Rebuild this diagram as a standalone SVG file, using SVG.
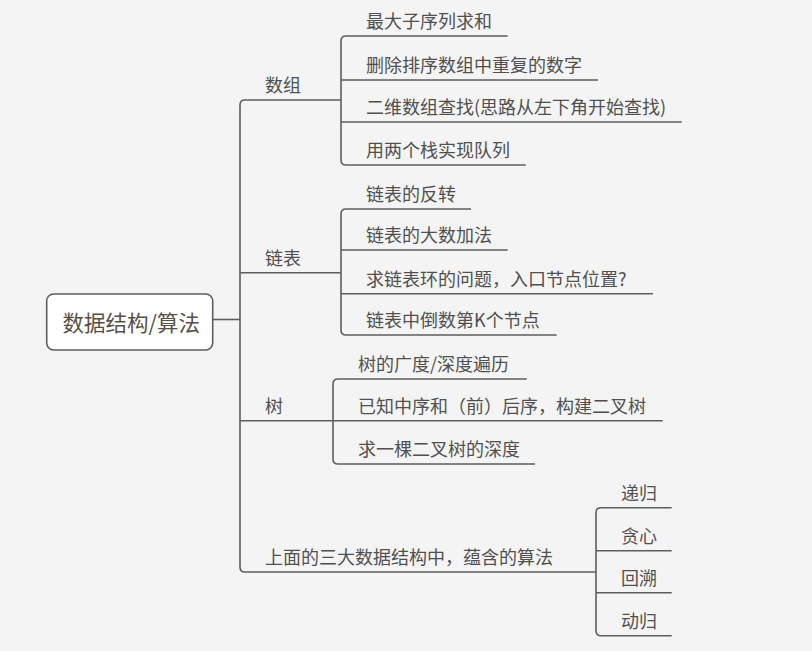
<svg xmlns="http://www.w3.org/2000/svg" width="812" height="651" viewBox="0 0 812 651">
<style>
  .bg{fill:#f4f4f4}
  .c{fill:none;stroke:#5e5e5e;stroke-width:1.6;stroke-linecap:butt}
  .t{font-family:"Noto Sans CJK SC","Liberation Sans",sans-serif;font-size:18px;fill:#505050}
  .root{font-family:"Noto Sans CJK SC","Liberation Sans",sans-serif;font-size:21.5px;fill:#574f48}
  .box{fill:#ffffff;stroke:#5e5e5e;stroke-width:1.6}
</style>
<rect class="bg" x="0" y="0" width="812" height="651"/>
<g id="connectors">
  <path class="c" d="M212.7 319.5 H240"/>
  <path class="c" d="M341 100 H245 Q240 100 240 105 V567 Q240 572 245 572 H596"/>
  <path class="c" d="M240 272.7 H341"/>
  <path class="c" d="M240 420.7 H333"/>
  <path class="c" d="M507.7 36 H346 Q341 36 341 41 V160 Q341 165 346 165 H525.7"/>
  <path class="c" d="M341 80 H598"/>
  <path class="c" d="M341 122 H681.7"/>
  <path class="c" d="M471 209 H346 Q341 209 341 214 V330 Q341 335 346 335 H556.7"/>
  <path class="c" d="M341 250 H507.7"/>
  <path class="c" d="M341 293.7 H653"/>
  <path class="c" d="M526.7 379 H338 Q333 379 333 384 V459 Q333 464 338 464 H535"/>
  <path class="c" d="M333 420.7 H662.7"/>
  <path class="c" d="M671.7 507.7 H601 Q596 507.7 596 512.7 V630.7 Q596 635.7 601 635.7 H671.7"/>
  <path class="c" d="M596 550.7 H671.7"/>
  <path class="c" d="M596 592.7 H671.7"/>
</g>
<g id="root">
  <rect class="box" x="46.7" y="294" width="166" height="56" rx="7"/>
  <text class="root" x="62.5" y="331">数据结构/算法</text>
</g>
<g id="n-array"><text class="t" x="265" y="92">数组</text></g>
<g id="n-list"><text class="t" x="265" y="264.7">链表</text></g>
<g id="n-tree"><text class="t" x="265" y="412.7">树</text></g>
<g id="n-algo"><text class="t" x="265" y="564">上面的三大数据结构中，蕴含的算法</text></g>
<g id="a1"><text class="t" x="366" y="28">最大子序列求和</text></g>
<g id="a2"><text class="t" x="366" y="72">删除排序数组中重复的数字</text></g>
<g id="a3"><text class="t" x="366" y="114">二维数组查找(思路从左下角开始查找)</text></g>
<g id="a4"><text class="t" x="366" y="157">用两个栈实现队列</text></g>
<g id="l1"><text class="t" x="366" y="201">链表的反转</text></g>
<g id="l2"><text class="t" x="366" y="242">链表的大数加法</text></g>
<g id="l3"><text class="t" x="366" y="285.7">求链表环的问题，入口节点位置?</text></g>
<g id="l4"><text class="t" x="366" y="327">链表中倒数第K个节点</text></g>
<g id="t1"><text class="t" x="358" y="371">树的广度/深度遍历</text></g>
<g id="t2"><text class="t" x="358" y="412.7">已知中序和（前）后序，构建二叉树</text></g>
<g id="t3"><text class="t" x="358" y="456">求一棵二叉树的深度</text></g>
<g id="g1"><text class="t" x="621" y="499.7">递归</text></g>
<g id="g2"><text class="t" x="621" y="542.7">贪心</text></g>
<g id="g3"><text class="t" x="621" y="584.7">回溯</text></g>
<g id="g4"><text class="t" x="621" y="627.7">动归</text></g>
</svg>
